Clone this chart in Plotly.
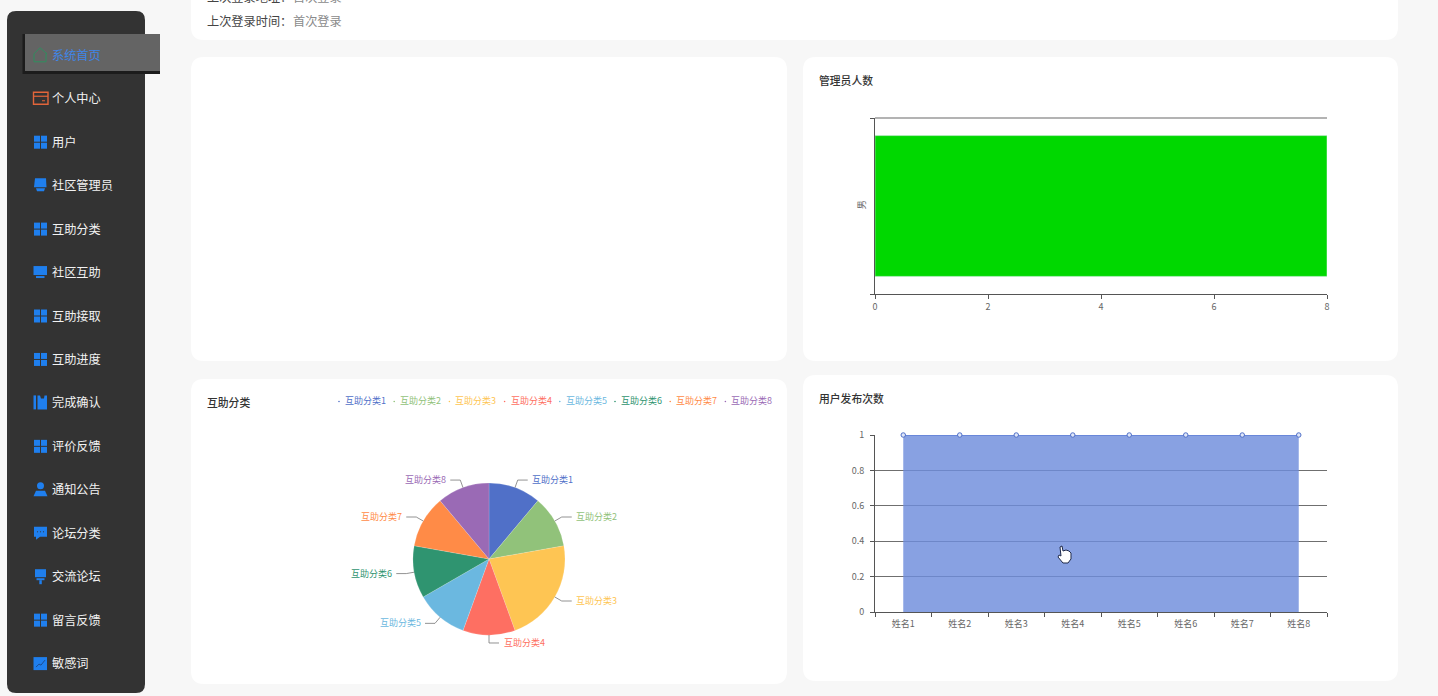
import math
import plotly.graph_objects as go

W, H = 1438, 696
FONT = "Noto Sans CJK SC"

# -- data --
menu_labels = ["系统首页", "个人中心", "用户", "社区管理员", "互助分类", "社区互助", "互助接取", "互助进度",
               "完成确认", "评价反馈", "通知公告", "论坛分类", "交流论坛", "留言反馈", "敏感词"]
menu_icons = ["home", "card", "grid", "hat", "grid", "screen", "grid", "grid",
              "book", "grid", "person", "chat", "brush", "grid", "trend"]

admin_genders = ["男"]
admin_counts = [8]

help_categories = ["互助分类1", "互助分类2", "互助分类3", "互助分类4", "互助分类5", "互助分类6", "互助分类7", "互助分类8"]
help_counts = [1, 1, 2, 1, 1, 1, 1, 1]
help_colors = ["#5070c8", "#91c27a", "#fec553", "#fe6f62", "#6bb8e0", "#2f9470", "#ff8b47", "#9a6ab5"]

user_names = ["姓名1", "姓名2", "姓名3", "姓名4", "姓名5", "姓名6", "姓名7", "姓名8"]
user_posts = [1, 1, 1, 1, 1, 1, 1, 1]

shapes = []
notes = []


def X(x):
    return x / W


def Y(y):
    return 1 - y / H


def pt(x, y):
    return f"{X(x):.5f},{Y(y):.5f}"


def add_rect(x0, y0, x1, y1, color, layer="below"):
    shapes.append(dict(type="rect", xref="paper", yref="paper", x0=X(x0), x1=X(x1), y0=Y(y0), y1=Y(y1),
                       fillcolor=color, line_width=0, layer=layer))


def add_round(x0, y0, x1, y1, r, color):
    p = (f"M{pt(x0 + r, y0)} L{pt(x1 - r, y0)} Q{pt(x1, y0)} {pt(x1, y0 + r)} "
         f"L{pt(x1, y1 - r)} Q{pt(x1, y1)} {pt(x1 - r, y1)} "
         f"L{pt(x0 + r, y1)} Q{pt(x0, y1)} {pt(x0, y1 - r)} "
         f"L{pt(x0, y0 + r)} Q{pt(x0, y0)} {pt(x0 + r, y0)} Z")
    shapes.append(dict(type="path", xref="paper", yref="paper", path=p, fillcolor=color, line_width=0, layer="below"))


def add_path(points, color=None, line=None, width=1, close=True):
    p = "M" + " L".join(pt(a, b) for a, b in points) + (" Z" if close else "")
    shapes.append(dict(type="path", xref="paper", yref="paper", path=p,
                       fillcolor=color if color else "rgba(0,0,0,0)",
                       line=dict(color=line if line else "rgba(0,0,0,0)", width=width)))


def add_dot(x, y, r, color):
    shapes.append(dict(type="circle", xref="paper", yref="paper", x0=X(x - r), x1=X(x + r), y0=Y(y + r), y1=Y(y - r),
                       fillcolor=color, line_width=0))


def add_text(text, x, y, color, size, anchor="left", weight=None):
    font = dict(family=FONT, color=color, size=size)
    if weight:
        font["weight"] = weight
    notes.append(dict(text=text, x=X(x), y=Y(y), xref="paper", yref="paper", showarrow=False, borderpad=0,
                      xanchor=anchor, yanchor="middle", font=font))


def draw_icon(kind, cy):
    blue = "#1f7fee"
    x0, x1 = 33, 47
    if kind == "home":
        add_path([(34, cy - 1), (40, cy - 7), (47, cy - 1), (46, cy - 1), (46, cy + 7), (34, cy + 7), (34, cy - 1)],
                 line="#2f8f5f", width=1)
    elif kind == "card":
        add_path([(x0 + 0.5, cy - 6), (x1 + 1, cy - 6), (x1 + 1, cy + 6), (x0 + 0.5, cy + 6)], line="#e2653a", width=1.4)
        add_path([(x0 + 0.5, cy - 2), (x1 + 1, cy - 2)], line="#e2653a", width=1.2, close=False)
        add_rect(42, cy + 2, 45, cy + 3, "#e2653a", layer="above")
    elif kind == "grid":
        for a in (34, 41):
            for b in (cy - 6, cy + 1):
                add_rect(a, b, a + 6, b + 6, blue, layer="above")
    elif kind == "hat":
        add_path([(35, cy - 7), (46, cy - 7), (46.5, cy + 2), (34, cy + 2)], color=blue)
        add_path([(36, cy + 3), (45, cy + 3), (44, cy + 6), (37, cy + 6)], color=blue)
    elif kind == "screen":
        add_rect(33.5, cy - 6, 47, cy + 3, blue, layer="above")
        add_rect(36, cy + 4, 44.5, cy + 6, blue, layer="above")
    elif kind == "book":
        add_rect(33.5, cy - 7, 36, cy + 7, blue, layer="above")
        add_path([(37.5, cy - 7), (40, cy - 7), (41, cy - 4), (44, cy - 4), (44.5, cy - 7), (47, cy - 7), (47, cy + 7), (37.5, cy + 7)],
                 color=blue)
    elif kind == "person":
        add_dot(40.5, cy - 3.5, 3.5, blue)
        add_path([(33.5, cy + 7), (36, cy + 1.5), (45, cy + 1.5), (47.5, cy + 7)], color=blue)
    elif kind == "chat":
        add_path([(34, cy - 6), (47, cy - 6), (47, cy + 4), (40, cy + 4), (36, cy + 7), (36, cy + 4), (34, cy + 4)], color=blue)
        for a in (37.5, 40.5, 43.5):
            add_dot(a, cy - 1, 0.6, "#333333")
    elif kind == "brush":
        add_rect(35, cy - 7, 46, cy + 1, blue, layer="above")
        add_rect(36.5, cy + 2, 44.5, cy + 4, blue, layer="above")
        add_rect(39.3, cy + 4, 41.8, cy + 8, blue, layer="above")
    elif kind == "trend":
        add_rect(33.5, cy - 6, 47, cy + 7, blue, layer="above")
        add_path([(36, cy + 4), (39, cy + 1), (41, cy + 2), (45, cy - 3)], line="#1a3f78", width=0.8, close=False)


# -- page background cards --
add_round(7, 11, 145, 693, 9, "#333333")
add_round(191, -20, 1398, 40, 13, "#ffffff")
add_round(191, 57, 787, 361, 13, "#ffffff")
add_round(803, 57, 1398, 361, 13, "#ffffff")
add_round(191, 379, 787, 684, 13, "#ffffff")
add_round(803, 375, 1398, 681, 13, "#ffffff")

# -- side menu --
add_rect(22.5, 34, 160, 74, "#1c1c1c")
add_rect(25, 34, 160, 71, "#646464")
for i, (label, icon) in enumerate(zip(menu_labels, menu_icons)):
    row_y = 54.8 + i * 43.45
    draw_icon(icon, row_y)
    add_text(label, 50.5, row_y, "#3f86e8" if i == 0 else "#f2f2f2", 12.2)

# -- login info, first line is cut by the top of the page in the original --
add_text("上次登录地址：", 206, -3, "#444444", 12.2)
add_text("首次登录", 292, -3, "#8a8a8a", 12.2)
add_text("上次登录时间：", 206, 21, "#444444", 12.2)
add_text("首次登录", 292, 21, "#8a8a8a", 12.2)

# -- panel titles --
add_text("管理员人数", 818, 79.5, "#333333", 10.8, weight=500)
add_text("互助分类", 206, 401.5, "#333333", 10.8, weight=500)
add_text("用户发布次数", 818, 397.5, "#333333", 10.8, weight=500)

# -- pie labels, leader lines and legend --
pie_cx, pie_cy, pie_r = 489, 559, 76
total = sum(help_counts)
start = 0
for name, count, color in zip(help_categories, help_counts, help_colors):
    mid = math.radians((start + count / 2) / total * 360)
    start += count
    sx, cx = math.sin(mid), math.cos(mid)
    side = 1 if sx >= -1e-9 else -1
    ex, ey = pie_cx + (pie_r + 8) * sx, pie_cy - (pie_r + 8) * cx
    add_path([(pie_cx + pie_r * sx, pie_cy - pie_r * cx), (ex, ey), (ex + side * 10, ey)],
             line="#777777", width=0.8, close=False)
    add_text(name, ex + side * 13.5, ey - 0.5, color, 9, "left" if side > 0 else "right")

legend_x = 344
for name, color in zip(help_categories, help_colors):
    add_dot(legend_x - 5, 401.5, 0.8, color)
    add_text(name, legend_x, 400.5, color, 9)
    legend_x += 55.2

# category boundary line on top of the bar chart
add_path([(875, 118), (1327, 118)], line="#9a9a9a", width=1.3, close=False)

# mouse pointer left in the screenshot
add_path([(1060, 547), (1062, 546), (1063, 551), (1066, 550), (1069, 551), (1071, 553), (1071, 559), (1068, 563),
          (1063, 563), (1058, 557), (1059, 555), (1061, 556)], color="#ffffff", line="#1f2a4a", width=1)

fig = go.Figure()

fig.add_trace(go.Bar(x=admin_counts, y=admin_genders, orientation="h", marker_color="#00d800",
                     xaxis="x", yaxis="y", hoverinfo="skip"))

fig.add_trace(go.Pie(labels=help_categories, values=help_counts, sort=False, direction="clockwise", rotation=0,
                     marker=dict(colors=help_colors, line=dict(color="rgba(255,255,255,0.5)", width=0.3)),
                     textinfo="none", hoverinfo="skip",
                     domain=dict(x=[X(pie_cx - pie_r), X(pie_cx + pie_r)], y=[Y(pie_cy + pie_r), Y(pie_cy - pie_r)])))

fig.add_trace(go.Scatter(x=user_names, y=user_posts, mode="lines+markers", xaxis="x2", yaxis="y2", cliponaxis=False,
                         fill="tozeroy", fillcolor="rgba(110,140,220,0.82)", hoverinfo="skip",
                         line=dict(color="#5f7fd6", width=1.5),
                         marker=dict(size=4.5, color="#dfe6f8", line=dict(color="#5070c8", width=1))))

tick_font = dict(family=FONT, size=9, color="#666666")
axis_line = dict(showline=True, linecolor="#555555", linewidth=1, ticks="outside", ticklen=4, tickwidth=1,
                 tickcolor="#555555", tickfont=tick_font, zeroline=False)

fig.update_layout(
    width=W, height=H, margin=dict(l=0, r=0, t=0, b=0, autoexpand=False), autosize=False,
    paper_bgcolor="#f7f7f7", plot_bgcolor="rgba(0,0,0,0)", showlegend=False, bargap=0.2,
    font=dict(family=FONT),
    shapes=shapes, annotations=notes,
    xaxis=dict(domain=[X(875), X(1327)], anchor="y", range=[0, 8], dtick=2, showgrid=False, **axis_line),
    yaxis=dict(domain=[Y(294), Y(118)], anchor="x", type="category", tickson="boundaries", tickangle=-90,
               ticklabelstandoff=5, showgrid=False, **axis_line),
    xaxis2=dict(domain=[X(875), X(1327)], anchor="y2", type="category", tickson="boundaries", range=[-0.5, 7.5],
                ticklabelstandoff=3, showgrid=False, **axis_line),
    yaxis2=dict(domain=[Y(612), Y(435)], anchor="x2", range=[0, 1], dtick=0.2, showgrid=True,
                ticklabelstandoff=4, gridcolor="#6f6f6f", gridwidth=1, **axis_line),
)

fig.write_html("out.html", config={"displayModeBar": False},
               post_script="document.body.style.margin='0';document.body.style.overflow='hidden';")
